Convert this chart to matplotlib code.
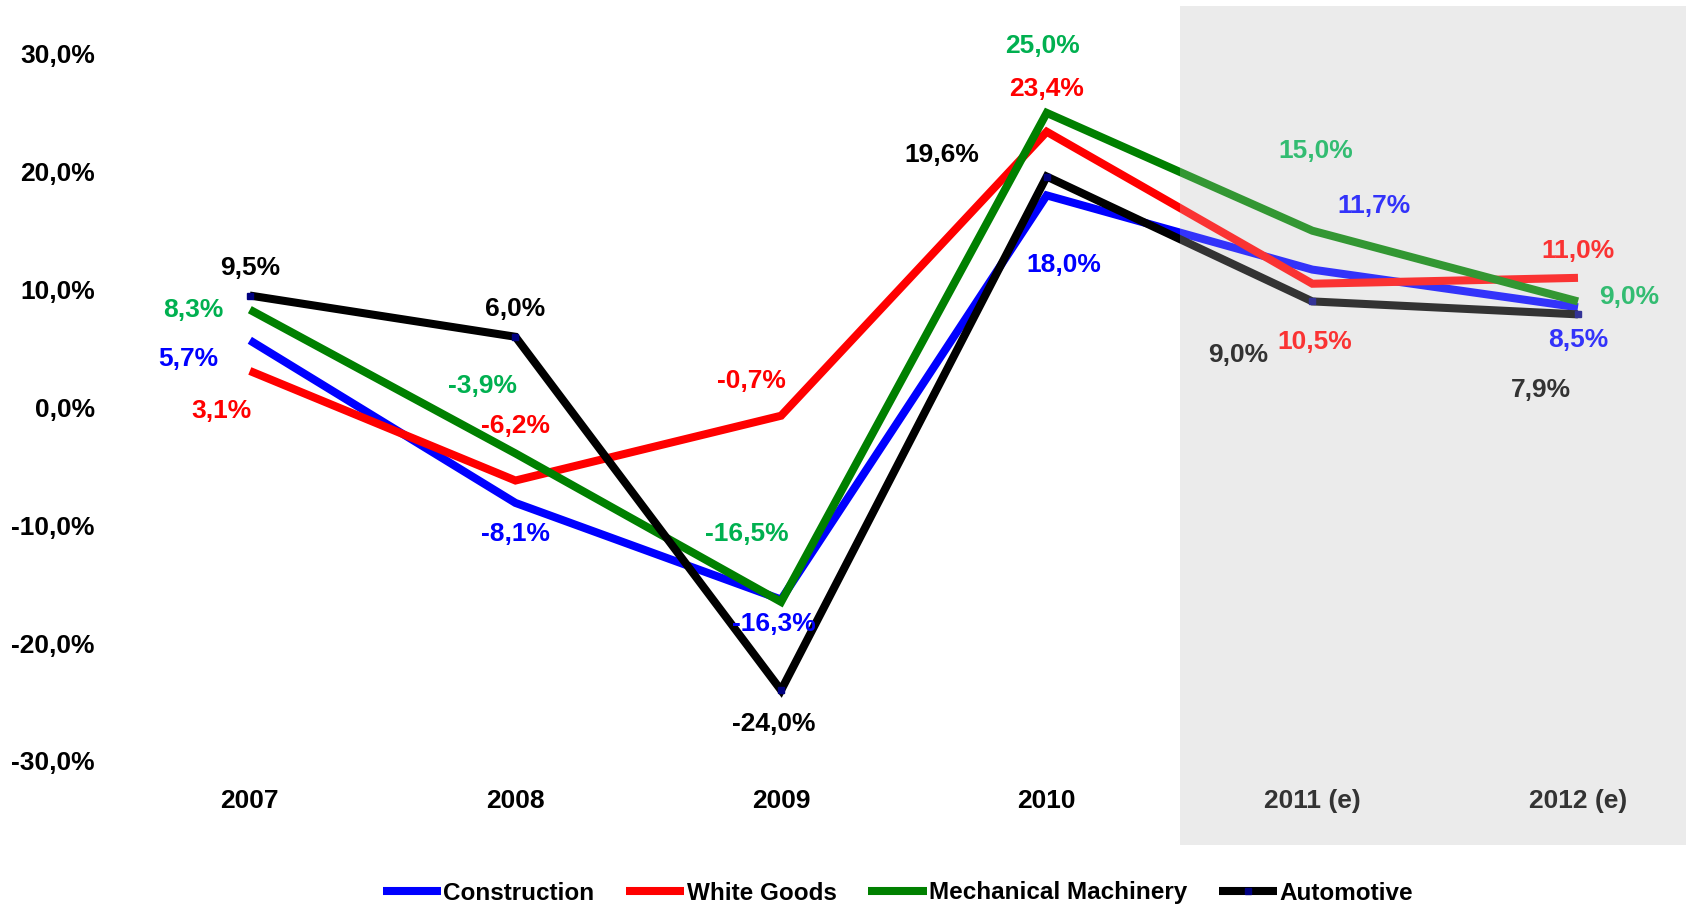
import matplotlib
matplotlib.use("Agg")
import matplotlib.pyplot as plt

plt.rcParams['font.family'] = ['Liberation Sans', 'DejaVu Sans']
plt.rcParams['font.weight'] = 'bold'

categories = ["2007", "2008", "2009", "2010", "2011 (e)", "2012 (e)"]
construction = [5.7, -8.1, -16.3, 18.0, 11.7, 8.5]
white_goods = [3.1, -6.2, -0.7, 23.4, 10.5, 11.0]
mechanical = [8.3, -3.9, -16.5, 25.0, 15.0, 9.0]
automotive = [9.5, 6.0, -24.0, 19.6, 9.0, 7.9]
yticks = [-30, -20, -10, 0, 10, 20, 30]

# label offsets in pixels (dx, dy upward)
off_con = [(-62, -19), (0, -31), (-7, -24), (17, -70), (62, 64), (0, -33)]
off_wg = [(-28, -40), (0, 55), (-30, 35), (0, 43), (2, -58), (0, 27)]
off_mm = [(-57, 0), (-33, 67), (-34, 68), (-4, 67), (3, 80), (51, 4)]
off_au = [(0, 28), (0, 28), (-7, -34), (-105, 22), (-74, -54), (-37, -76)]

series = [
    ("Construction", construction, "#0000FF", "#0000FF", off_con, False),
    ("White Goods", white_goods, "#FF0000", "#FF0000", off_wg, False),
    ("Mechanical Machinery", mechanical, "#008000", "#00B050", off_mm, False),
    ("Automotive", automotive, "#000000", "#000000", off_au, True),
]

W, H = 1686, 908
fig = plt.figure(figsize=(W / 100, H / 100), dpi=100)
left_px, right_px, top_px, bot_px = 117, 1686, 6, 845
ax = fig.add_axes([left_px / W, 1 - bot_px / H, (right_px - left_px) / W, (bot_px - top_px) / H])

x = list(range(len(categories)))
FS = 19

ax.axvspan(3.5, 6, color="#EBEBEB", zorder=0, lw=0)

for name, vals, lc, tc, offs, mark in series:
    kw = dict(marker="s", markersize=5, markerfacecolor="#000080",
              markeredgecolor="#000080") if mark else {}
    ax.plot(x, vals, color=lc, lw=5.8, label=name, solid_capstyle="butt",
            solid_joinstyle="miter", zorder=3, **kw)
    for xi, v, (dx, dy) in zip(x, vals, offs):
        ax.annotate(f"{v:.1f}%".replace(".", ","), (xi, v), xytext=(dx, dy),
                    textcoords="offset pixels", ha="center", va="center",
                    color=tc, fontsize=FS, fontweight="bold", zorder=4)

ax.axvspan(3.5, 6, color="#EBEBEB", alpha=0.22, zorder=10, lw=0)

ax.set_xlim(-0.5, (1686 - 250) / 265.6)
ax.set_ylim(-37.13, 34.07)
ax.set_xticks(x)
ax.set_xticklabels(categories, fontsize=FS, fontweight="bold")
ax.set_yticks(yticks)
ax.set_yticklabels([f"{t:.1f}%".replace(".", ",") for t in yticks], fontsize=FS, fontweight="bold")
ax.tick_params(axis="x", length=0, pad=-40)
ax.tick_params(axis="y", length=0, pad=16)
for s in ax.spines.values():
    s.set_visible(False)

leg = fig.legend(loc="center", bbox_to_anchor=(898 / W, 1 - 893 / H), ncol=4,
                 frameon=False, handlelength=2.4, handletextpad=0.1,
                 columnspacing=1.3, prop={"weight": "bold", "size": 17.5})

fig.savefig("out.png", dpi=100)
